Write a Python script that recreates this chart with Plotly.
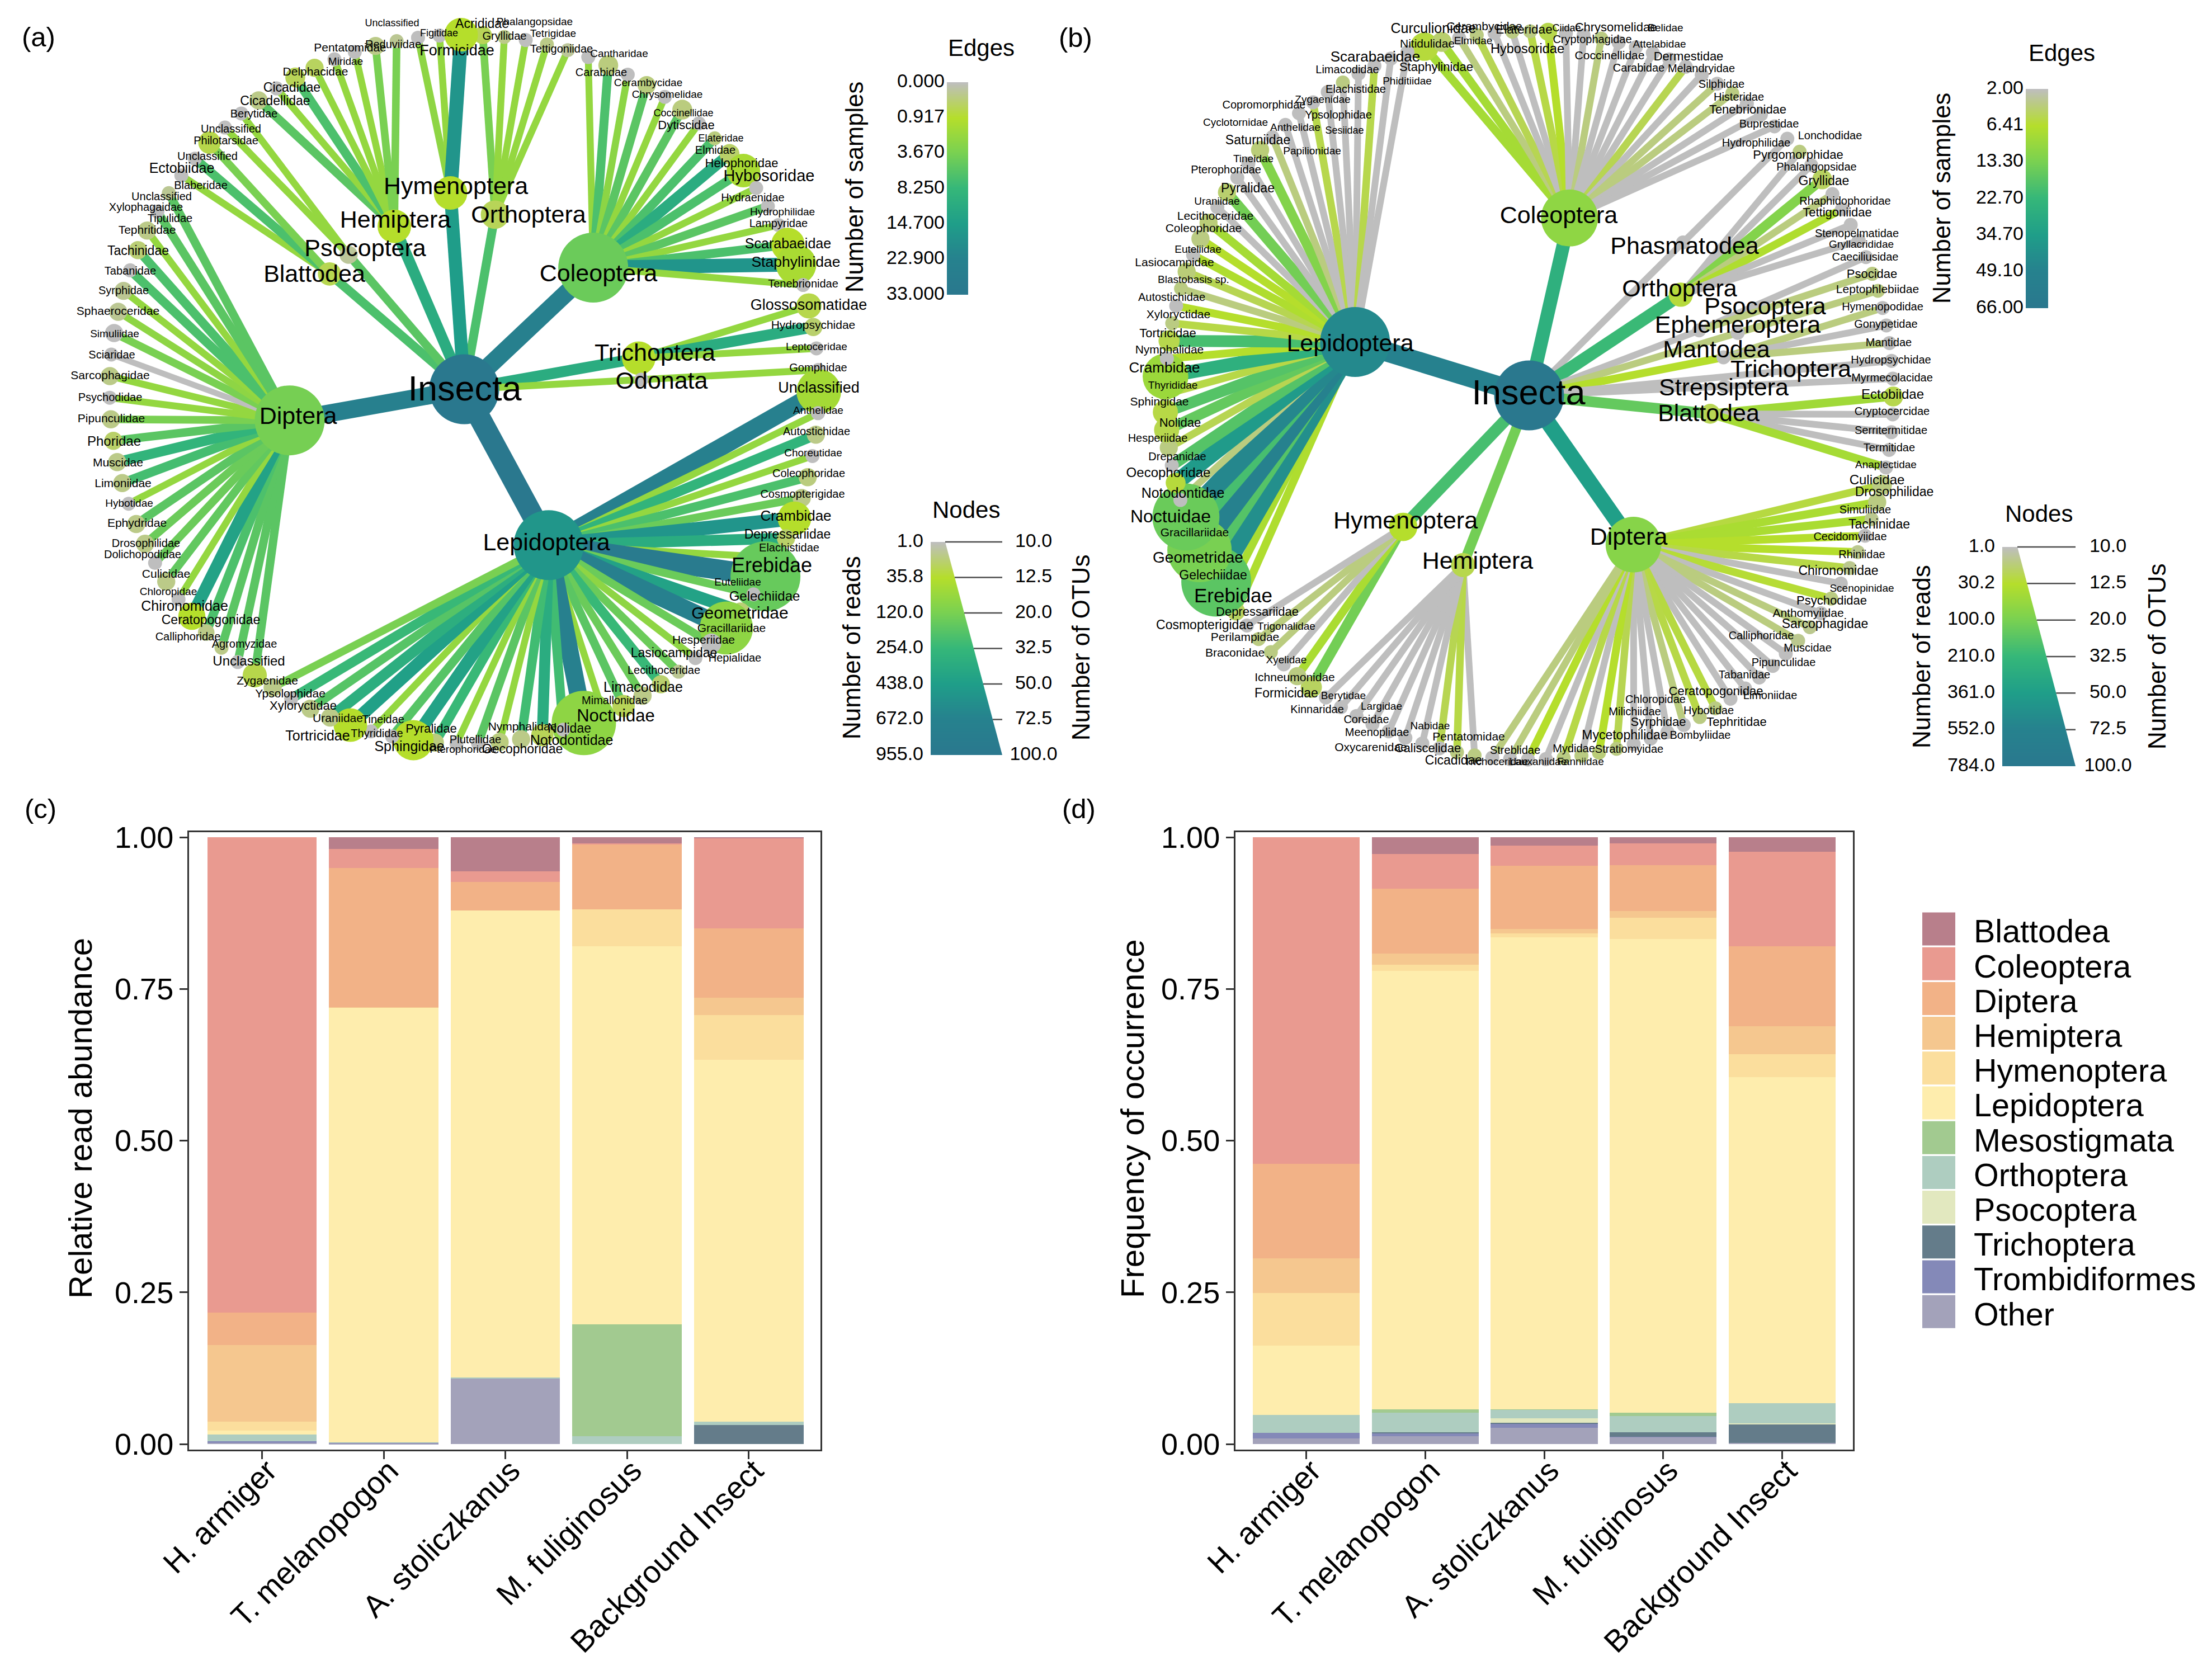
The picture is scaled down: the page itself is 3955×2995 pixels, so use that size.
import math
import numpy as np
import plotly.graph_objects as go
from plotly.colors import sample_colorscale

W, H = 3955, 2995
FONT = "Liberation Sans"

# ---------- stacked bars ----------
categories = ["H. armiger", "T. melanopogon", "A. stoliczkanus", "M. fuliginosus", "Background Insect"]
stack_orders = ["Other", "Trombidiformes", "Trichoptera", "Psocoptera", "Orthoptera", "Mesostigmata",
                "Lepidoptera", "Hymenoptera", "Hemiptera", "Diptera", "Coleoptera", "Blattodea"]
stack_colors = ["#A3A2BA", "#8489B8", "#647C8A", "#E2E8BF", "#AECDC0", "#A2CA90",
                "#FEEDAD", "#FBDE9D", "#F5C78F", "#F2B287", "#E99A90", "#B87F8B"]
legend_orders = ["Blattodea", "Coleoptera", "Diptera", "Hemiptera", "Hymenoptera", "Lepidoptera",
                 "Mesostigmata", "Orthoptera", "Psocoptera", "Trichoptera", "Trombidiformes", "Other"]
read_other = [.002, .001, .108, 0, 0]
read_trombidiformes = [.003, .001, 0, 0, 0]
read_trichoptera = [0, 0, 0, 0, .031]
read_psocoptera = [0, 0, 0, 0, 0]
read_orthoptera = [.011, .001, .002, .013, .0056]
read_mesostigmata = [0, 0, 0, .184, 0]
read_lepidoptera = [.006, .7168, .769, .623, .597]
read_hymenoptera = [.0146, 0, 0, .061, .073]
read_hemiptera = [.1264, .0002, 0, 0, .0291]
read_diptera = [.0535, .229, .047, .107, .1143]
read_coleoptera = [.7835, .032, .018, .002, .148]
read_blattodea = [0, .019, .056, .010, .002]
freq_other = [.0094, .013, .0272, .0113, .002]
freq_trombidiformes = [.0094, .0048, .0066, .0009, 0]
freq_trichoptera = [0, .0019, .0009, .0075, .0299]
freq_psocoptera = [0, 0, .0075, 0, .0019]
freq_orthoptera = [.029, .0319, .0141, .0263, .0337]
freq_mesostigmata = [0, .0056, .001, .0056, 0]
freq_lepidoptera = [.1145, .7223, .7776, .7805, .5375]
freq_hymenoptera = [.0863, .0105, .0066, .0356, .0376]
freq_hemiptera = [.0572, .0186, .0075, .0103, .046]
freq_diptera = [.1557, .107, .1041, .076, .1313]
freq_coleoptera = [.5385, .0563, .0328, .0357, .1557]
freq_blattodea = [0, .0281, .0141, .0103, .0244]
read_table = [read_other, read_trombidiformes, read_trichoptera, read_psocoptera, read_orthoptera, read_mesostigmata,
              read_lepidoptera, read_hymenoptera, read_hemiptera, read_diptera, read_coleoptera, read_blattodea]
freq_table = [freq_other, freq_trombidiformes, freq_trichoptera, freq_psocoptera, freq_orthoptera, freq_mesostigmata,
              freq_lepidoptera, freq_hymenoptera, freq_hemiptera, freq_diptera, freq_coleoptera, freq_blattodea]
y_ticks = [0, .25, .5, .75, 1]

# ---------- panel (a) tree, leaves listed clockwise ----------
A_orders = ["Orthoptera", "Coleoptera", "Trichoptera", "Odonata", "Lepidoptera", "Diptera", "Blattodea", "Psocoptera", "Hemiptera", "Hymenoptera"]
A_counts = [5, 16, 3, 1, 36, 26, 3, 2, 8, 3]
A_order_samples = [6.5, 25, 10.9, 2.2, 33, 25, 6.5, 5.5, 10.9, 15]
A_order_reads = [20, 144, 36, 1, 500, 125, 22, 5, 36, 36]
A_order_otus = [16, 100, 21, 10, 100, 100, 12.5, 10.5, 21, 21]
A_order_height = [.5, .5, .5, .5, .5, .5, .5, .5, .5, .555]
A_leaves = ["Acrididae", "Gryllidae", "Phalangopsidae", "Tetrigidae", "Tettigoniidae",
    "Cantharidae", "Carabidae", "Cerambycidae", "Chrysomelidae", "Coccinellidae", "Dytiscidae", "Elateridae", "Elmidae", "Helophoridae", "Hybosoridae", "Hydraenidae", "Hydrophilidae", "Lampyridae", "Scarabaeidae", "Staphylinidae", "Tenebrionidae",
    "Glossosomatidae", "Hydropsychidae", "Leptoceridae",
    "Gomphidae",
    "Unclassified", "Anthelidae", "Autostichidae", "Choreutidae", "Coleophoridae", "Cosmopterigidae", "Crambidae", "Depressariidae", "Elachistidae", "Erebidae", "Euteliidae", "Gelechiidae", "Geometridae", "Gracillariidae", "Hesperiidae", "Hepialidae", "Lasiocampidae", "Lecithoceridae", "Limacodidae", "Mimallonidae", "Noctuidae", "Nolidae", "Notodontidae", "Nymphalidae", "Oecophoridae", "Plutellidae", "Pterophoridae", "Pyralidae", "Sphingidae", "Thyrididae", "Tineidae", "Tortricidae", "Uraniidae", "Xyloryctidae", "Ypsolophidae", "Zygaenidae",
    "Unclassified", "Agromyzidae", "Calliphoridae", "Ceratopogonidae", "Chironomidae", "Chloropidae", "Culicidae", "Dolichopodidae", "Drosophilidae", "Ephydridae", "Hybotidae", "Limoniidae", "Muscidae", "Phoridae", "Pipunculidae", "Psychodidae", "Sarcophagidae", "Sciaridae", "Simuliidae", "Sphaeroceridae", "Syrphidae", "Tabanidae", "Tachinidae", "Tephritidae", "Tipulidae", "Xylophagaidae",
    "Unclassified", "Blaberidae", "Ectobiidae",
    "Unclassified", "Philotarsidae",
    "Unclassified", "Berytidae", "Cicadellidae", "Cicadidae", "Delphacidae", "Miridae", "Pentatomidae", "Reduviidae",
    "Unclassified", "Figitidae", "Formicidae"]
A_samples = [3.7, 2.2, 2.2, 2.2, 2.2,
    2.2, 6.5, 2.6, 5.5, 2.2, 5.5, 2.2, 6.5, 10.9, 6.5, 2.2, 5.5, 2.2, 6.5, 17, 2.2,
    2.2, 10.9, 2.2,
    2.2,
    25, 2.2, 9, 2.2, 6.5, 4.5, 17, 10.9, 2.2, 30, 4.5, 13.5, 25, 4.5, 2.5, 4.5, 8, 4.5, 5.5, 2.2, 25, 7.3, 10.9, 7.3, 2.2, 5.5, 2.2, 8, 13.5, 5.8, 2.2, 14, 10.3, 5.8, 8, 3.7,
    5.5, 5.5, 5.5, 6.5, 13.5, 2.2, 5, 4.5, 4.5, 5.5, 2.2, 7, 9, 5.5, 3.7, 2.2, 2.2, 0, 3.7, 2.5, 2.2, 6.5, 6.5, 2.2, 5.5, 5.5,
    2.2, 6.5, 3.7,
    2.2, 2.2,
    5.5, 2.2, 6.5, 2.2, 2.2, 2.2, 3.7, 3.7,
    2.5, 2.2, 17]
A_reads = [20, 8, 1, 8, 5,
    1, 10, 1, 10, 1, 10, 1, 10, 15, 49, 1, 1, 1, 36, 49, 1,
    24, 14, 1,
    1,
    55, 1, 8, 1, 10, 8, 36, 15, 1, 150, 1, 12, 85, 1, 1, 6, 14, 8, 20, 1, 85, 1, 20, 8, 10, 1, 1, 10, 36, 1, 1, 36, 8, 8, 1, 8,
    24, 1, 8, 8, 36, 1, 8, 1, 8, 8, 1, 8, 8, 15, 8, 1, 8, 1, 1, 6, 6, 1, 12, 8, 1, 6,
    1, 1, 24,
    1, 1,
    8, 1, 20, 18, 1, 1, 8, 6,
    1, 1, 36]
A_otus = [10.5, 10, 10, 10, 10,
    10, 11, 10, 10.5, 10, 11, 10, 10, 11, 21, 10, 10, 10, 21, 30, 10,
    13.6, 10.5, 10,
    10,
    37, 10, 10.5, 10, 10.5, 10.5, 21, 10.5, 10, 100, 10, 10.5, 54, 11, 10, 10, 10.5, 10.5, 12, 10, 83, 10, 12, 10.5, 10.5, 10, 10, 10.5, 30, 10, 10, 21, 10.5, 10.5, 10, 10.5,
    13, 10, 10, 10.2, 15, 10, 10.5, 10, 10.5, 10.5, 10, 10.5, 10.5, 10.5, 10.5, 10, 10.5, 10, 10.5, 10.5, 10.5, 10, 10.5, 10.5, 10, 10,
    10, 10, 12,
    10, 10,
    10.5, 10, 11, 10.5, 10, 10, 10.5, 10,
    10, 10, 21]

# ---------- panel (b) tree, leaves listed clockwise ----------
B_orders = ["Coleoptera", "Phasmatodea", "Orthoptera", "Psocoptera", "Ephemeroptera", "Mantodea", "Trichoptera", "Strepsiptera", "Blattodea", "Diptera", "Hemiptera", "Hymenoptera", "Lepidoptera"]
B_counts = [22, 1, 7, 2, 1, 3, 1, 1, 5, 30, 10, 6, 39]
B_order_samples = [26, 2, 22, 2, 3.6, 6.4, 2, 2, 16, 34, 14, 20, 50]
B_order_reads = [70, 1, 25, 1, 1, 1, 1, 1, 18, 80, 20, 30, 500]
B_order_otus = [63, 10, 13, 10, 10, 10, 10, 10, 11, 60, 13, 16, 100]
B_order_height = [.5, .596, .5, .5, .598, .544, .719, .538, .5, .5, .5, .5, .5]
B_leaves = ["Scarabaeidae", "Staphylinidae", "Nitidulidae", "Curculionidae", "Cerambycidae", "Elmidae", "Elateridae", "Hybosoridae", "Ciidae", "Chrysomelidae", "Cryptophagidae", "Belidae", "Attelabidae", "Coccinellidae", "Dermestidae", "Carabidae", "Melandryidae", "Silphidae", "Histeridae", "Tenebrionidae", "Buprestidae", "Hydrophilidae",
    "Lonchodidae",
    "Pyrgomorphidae", "Phalangopsidae", "Gryllidae", "Rhaphidophoridae", "Tettigoniidae", "Stenopelmatidae", "Gryllacrididae",
    "Caeciliusidae", "Psocidae",
    "Leptophlebiidae",
    "Hymenopodidae", "Gonypetidae", "Mantidae",
    "Hydropsychidae",
    "Myrmecolacidae",
    "Ectobiidae", "Cryptocercidae", "Serritermitidae", "Termitidae", "Anaplectidae",
    "Culicidae", "Drosophilidae", "Simuliidae", "Tachinidae", "Cecidomyiidae", "Rhiniidae", "Chironomidae", "Scenopinidae", "Psychodidae", "Anthomyiidae", "Sarcophagidae", "Calliphoridae", "Muscidae", "Pipunculidae", "Tabanidae", "Limoniidae", "Ceratopogonidae", "Tephritidae", "Hybotidae", "Bombyliidae", "Syrphidae", "Chloropidae", "Milichiidae", "Mycetophilidae", "Stratiomyidae", "Mydidae", "Fanniidae", "Lauxaniidae", "Streblidae", "Trichoceridae",
    "Cicadidae", "Caliscelidae", "Pentatomidae", "Oxycarenidae", "Nabidae", "Meenoplidae", "Coreidae", "Largidae", "Kinnaridae", "Berytidae",
    "Formicidae", "Ichneumonidae", "Xyelidae", "Braconidae", "Perilampidae", "Trigonalidae",
    "Cosmopterigidae", "Depressariidae", "Erebidae", "Gelechiidae", "Geometridae", "Gracillariidae", "Noctuidae", "Notodontidae", "Oecophoridae", "Drepanidae", "Hesperiidae", "Nolidae", "Sphingidae", "Thyrididae", "Crambidae", "Nymphalidae", "Tortricidae", "Xyloryctidae", "Autostichidae", "Blastobasis sp.", "Lasiocampidae", "Euteliidae", "Coleophoridae", "Lecithoceridae", "Uraniidae", "Pyralidae", "Pterophoridae", "Tineidae", "Saturniidae", "Papilionidae", "Sesiidae", "Anthelidae", "Cyclotornidae", "Ypsolophidae", "Copromorphidae", "Zygaenidae", "Elachistidae", "Limacodidae", "Phiditiidae"]
B_samples = [8, 8, 3.6, 5, 2, 2, 5.4, 6.4, 2, 2, 3.6, 2, 2, 2, 2, 5, 2, 3.6, 3.6, 2, 2, 2,
    2,
    2, 2, 12, 3.6, 7, 2, 2,
    2, 3.6,
    3.6,
    3.6, 2, 3.6,
    2,
    2,
    8.5, 2, 2, 2, 8,
    5.6, 7.5, 7.5, 6.4, 6.4, 5.4, 2, 6, 2, 3.6, 3.6, 2, 2, 2, 2, 2, 5.6, 5.4, 3.6, 2, 2, 2, 5, 6.4, 2, 5.4, 2, 6.4, 3.6, 3.6,
    2, 5.4, 5, 2, 2, 2, 2, 2, 2, 2,
    14, 7.5, 2, 3.6, 3.6, 2,
    7, 7.5, 42, 18, 50, 20, 46, 3.6, 36, 18, 5, 16, 18, 5.4, 26, 6.4, 20, 5.4, 6.4, 3.6, 5, 7, 6.4, 8, 2, 14, 2, 2, 12, 3.6, 2, 2, 5.2, 2, 2, 2, 5.2, 2, 2]
B_reads = [25, 12, 1, 8, 1, 8, 8, 20, 1, 1, 8, 1, 1, 1, 1, 1, 1, 1, 8, 1, 1, 1,
    1,
    8, 1, 15, 1, 1, 1, 1,
    1, 8,
    8,
    1, 1, 1,
    1,
    1,
    20, 1, 1, 1, 1,
    8, 8, 6, 1, 6, 6, 1, 8, 1, 6, 6, 1, 1, 1, 1, 1, 8, 8, 1, 1, 1, 1, 8, 10, 8, 8, 1, 1, 1, 1,
    8, 8, 1, 1, 1, 1, 1, 1, 1, 1,
    15, 8, 1, 8, 8, 1,
    15, 1, 144, 10, 100, 20, 120, 1, 25, 1, 8, 20, 22, 8, 55, 1, 20, 8, 1, 8, 10, 1, 8, 10, 1, 12, 1, 1, 10, 1, 1, 1, 1, 1, 8, 1, 1, 1, 1]
B_otus = [16, 11, 10, 10, 10, 10, 10, 10.5, 10, 10, 10, 10, 10, 10, 10, 10, 10, 10, 10, 10, 10, 10,
    10,
    10, 10, 11, 10, 10, 10, 10,
    10, 10,
    10,
    10, 10, 10,
    10,
    10,
    11, 10, 10, 10, 10,
    11, 10.5, 10, 10, 10, 10, 10, 10, 10, 10, 10, 10, 10, 10, 10, 10, 10, 10, 10, 10, 10, 10, 10, 10, 10, 10, 10, 10, 10, 10,
    10, 10, 10, 10, 10, 10, 10, 10, 10, 10,
    11.5, 10.5, 10, 10, 10, 10,
    10.5, 10, 100, 10.5, 83, 10.5, 91, 10, 11, 10, 10.5, 13.6, 13.6, 10, 39, 10, 11.5, 10, 10, 10, 10.5, 10, 10.5, 10.5, 10, 10.5, 10, 10, 10.5, 10, 10, 10, 10, 10, 10, 10, 10, 10, 10]

# ---------- legend scales ----------
A_edge_ticks = ["0.000", "0.917", "3.670", "8.250", "14.700", "22.900", "33.000"]
B_edge_ticks = ["2.00", "6.41", "13.30", "22.70", "34.70", "49.10", "66.00"]
A_read_ticks = ["1.0", "35.8", "120.0", "254.0", "438.0", "672.0", "955.0"]
B_read_ticks = ["1.0", "30.2", "100.0", "210.0", "361.0", "552.0", "784.0"]
otu_ticks = ["10.0", "12.5", "20.0", "32.5", "50.0", "72.5", "100.0"]

# ---------- label placement (repelled by hand in the original) ----------
A_label_x = [862, 902, 956, 989, 1004,
    1107, 1075, 1159, 1193, 1222, 1227, 1289, 1279, 1326, 1375, 1346, 1399, 1392, 1409, 1423, 1436,
    1446, 1454, 1460,
    1463,
    1464, 1463, 1460, 1454, 1446, 1435, 1423, 1408, 1411, 1380, 1319, 1367, 1323, 1308, 1258, 1314, 1205, 1187, 1150, 1099, 1101, 1018, 1022, 934, 934, 850, 828, 771, 732, 674, 685, 568, 604, 542, 519, 478,
    445, 437, 336, 377, 330, 301, 297, 255, 261, 245, 231, 220, 211, 204, 199, 197, 197, 200, 205, 211, 221, 233, 247, 263, 304, 261,
    289, 359, 325,
    371, 404,
    413, 454, 492, 522, 564, 618, 626, 703,
    701, 785, 817]
A_label_y = [44, 66, 40, 61, 89,
    97, 131, 149, 170, 203, 225, 248, 270, 293, 317, 355, 380, 401, 438, 470, 509,
    547, 583, 621,
    659,
    695, 735, 773, 811, 848, 885, 924, 957, 981, 1014, 1042, 1068, 1098, 1125, 1146, 1178, 1169, 1200, 1231, 1254, 1282, 1304, 1326, 1301, 1341, 1324, 1341, 1304, 1337, 1313, 1288, 1318, 1286, 1263, 1242, 1219,
    1184, 1153, 1140, 1110, 1086, 1059, 1028, 993, 973, 937, 901, 866, 829, 791, 750, 712, 673, 636, 598, 558, 521, 486, 450, 413, 392, 372,
    353, 333, 303,
    281, 253,
    232, 205, 182, 158, 130, 111, 87, 81,
    42, 60, 92]
A_label_font = [23, 20, 19, 19, 20,
    19, 20, 19, 19, 18, 22, 18, 20, 22, 29, 20, 19, 20, 25, 26.5, 20,
    27, 21, 19,
    20,
    27, 19, 20, 19, 20, 20, 26, 23, 20, 36, 19, 24, 30, 21, 21, 20, 23, 20, 25, 20, 31, 23, 25, 21, 23, 20, 19, 22, 25, 20, 20, 25, 21, 22, 21, 21,
    24, 20, 20, 23, 25, 19, 21, 20, 20, 21, 19, 21, 21, 24, 21, 20, 21, 20, 19, 21, 20, 20, 23, 21, 20, 20,
    20, 20, 25,
    20, 20,
    20, 20, 23, 23, 21, 19, 21, 20,
    18, 18, 27]
A_order_label_x = [945, 1070, 1171, 1183, 977, 533, 562, 653, 707, 815]
A_order_label_y = [387, 492, 634, 684, 973, 747, 493, 447, 396, 336]
A_root_label = (831, 700)

B_label_x = [2459, 2568, 2552, 2563, 2654, 2634, 2725, 2731, 2801, 2889, 2847, 2978, 2967, 2878, 3019, 2930, 3042, 3078, 3109, 3125, 3163, 3140,
    3272,
    3215, 3248, 3261, 3299, 3285, 3320, 3328,
    3335, 3347,
    3357,
    3366, 3372, 3377,
    3381,
    3383,
    3384, 3383, 3381, 3378, 3372,
    3356, 3387, 3335, 3360, 3308, 3329, 3287, 3329, 3275, 3233, 3263, 3149, 3232, 3189, 3119, 3165, 3068, 3105, 3055, 3040, 2965, 2960, 2923, 2905, 2913, 2814, 2826, 2750, 2709, 2675,
    2599, 2553, 2626, 2451, 2557, 2462, 2443, 2470, 2355, 2402,
    2300, 2315, 2300, 2208, 2226, 2300,
    2154, 2248, 2205, 2169, 2142, 2136, 2093, 2115, 2089, 2105, 2070, 2110, 2073, 2097, 2082, 2091, 2088, 2107, 2095, 2134, 2100, 2142, 2152, 2173, 2176, 2231, 2192, 2241, 2249, 2346, 2404, 2316, 2209, 2393, 2260, 2365, 2424, 2409, 2516]
B_label_y = [103, 121, 80, 53, 49, 74, 54, 89, 51, 50, 72, 51, 80, 101, 102, 123, 124, 152, 175, 197, 223, 257,
    244,
    278, 300, 325, 361, 381, 419, 438,
    461, 491,
    519,
    550, 581, 614,
    645,
    677,
    707, 737, 771, 802, 832,
    860, 881, 913, 939, 961, 993, 1022, 1053, 1075, 1098, 1117, 1138, 1160, 1186, 1208, 1245, 1237, 1292, 1272, 1316, 1292, 1252, 1274, 1316, 1341, 1340, 1363, 1363, 1343, 1363,
    1361, 1339, 1319, 1338, 1299, 1311, 1288, 1264, 1270, 1245,
    1241, 1213, 1181, 1169, 1141, 1121,
    1119, 1095, 1068, 1030, 999, 954, 926, 884, 847, 818, 785, 757, 720, 690, 659, 627, 597, 564, 533, 501, 471, 447, 410, 388, 361, 338, 305, 285, 252, 271, 234, 229, 220, 207, 189, 179, 161, 126, 146]
B_label_font = [26, 22, 21, 25, 21, 19, 22.5, 23.5, 18, 22, 20, 19, 19, 21, 22, 20, 20, 20, 20, 22, 20, 20,
    20,
    22, 20, 23, 20, 22, 20, 19,
    20, 22,
    21,
    20, 20, 20,
    20,
    20,
    24, 20, 20, 20, 19,
    24, 23, 20, 23, 20, 20, 23, 19, 22, 21, 23, 20, 20, 20, 20, 20, 22, 22, 20, 20, 22, 20, 20, 23, 20, 20, 19, 19, 20, 19,
    23, 22, 21, 21, 19, 20, 20, 19, 20, 19,
    23, 21, 19, 21, 21, 19,
    23, 22, 35, 23, 28, 21, 32, 25, 24, 20, 20, 22, 21, 19, 26, 21, 22, 21, 20, 19, 21, 19, 21, 21, 19, 23, 20, 19, 23, 19, 18, 19, 19, 20, 20, 19, 20, 20, 19]
B_order_label_x = [2787, 3012, 3003, 3156, 3107, 3069, 3202, 3082, 3055, 2912, 2642, 2513, 2414]
B_order_label_y = [388, 443, 519, 551, 584, 628, 663, 696, 742, 963, 1006, 934, 617]
B_root_label = (2733, 707)

# ---------- scales ----------
CS = [[0, "#BEBEBE"], [.167, "#B5DE2B"], [.33, "#7AD151"], [.5, "#35B779"],
      [.667, "#1F9E89"], [.83, "#26828E"], [1, "#2A788E"]]


def col(t):
    return sample_colorscale(CS, [max(0, min(1, t))], colortype="rgb")[0]


def sqrt_t(v, lo, hi):
    return (math.sqrt(v) - math.sqrt(lo)) / (math.sqrt(hi) - math.sqrt(lo))


fig = go.Figure()


# ---------- bars ----------
def add_bars(table, xa, ya):
    for name, color, vals in zip(stack_orders, stack_colors, table):
        fig.add_trace(go.Bar(x=categories, y=vals, name=name, marker=dict(color=color, line=dict(width=0)),
                             xaxis=xa, yaxis=ya, showlegend=False, hoverinfo="skip"))


add_bars(read_table, "x", "y")
add_bars(freq_table, "x2", "y2")


# ---------- trees ----------
def add_tree(cx, cy, radius, start, orders, counts, o_s, o_r, o_o, o_h, leaves, samples, reads, otus,
             lx, ly, lf, olx, oly, root_label, s_rng, r_rng, w0, w1, wpow):
    n = sum(counts)
    assert len(leaves) == n and len(samples) == n and len(reads) == n and len(otus) == n, (len(leaves), len(samples), len(reads), len(otus), n)
    assert len(lx) == n and len(ly) == n and len(lf) == n, (len(lx), len(ly), len(lf), n)
    step = 360 / n

    def pos(deg, r):
        a = math.radians(deg)
        return cx + r * math.sin(a), cy - r * math.cos(a)

    def diam(o):
        return 25 + 100 * math.sqrt(max(o - 10, 0) / 90)

    def edge(p, q, v):
        t = max(0, sqrt_t(max(v, s_rng[0]), *s_rng))
        fig.add_trace(go.Scatter(x=[p[0], q[0]], y=[p[1], q[1]], mode="lines", xaxis="x3", yaxis="y3",
                                 line=dict(color=col(t), width=w0 + w1 * t ** wpow), hoverinfo="skip", showlegend=False))

    nx, ny, ns, nc = [], [], [], []

    def node(p, r, o):
        nx.append(p[0]); ny.append(p[1]); ns.append(diam(o))
        nc.append(col(sqrt_t(r, *r_rng)))

    leaf_pos = []
    order_pos = []
    k = 0
    for j, c in enumerate(counts):
        angles = [start + (k + i) * step for i in range(c)]
        p = pos((angles[0] + angles[-1]) / 2, radius * o_h[j])
        order_pos.append(p)
        edge((cx, cy), p, o_s[j])
        for i, a in enumerate(angles):
            q = pos(a, radius)
            leaf_pos.append(q)
            edge(p, q, samples[k + i])
        k += c
    for i, q in enumerate(leaf_pos):
        node(q, reads[i], otus[i])
    for j, p in enumerate(order_pos):
        node(p, o_r[j], o_o[j])
    node((cx, cy), r_rng[1], 100)
    fig.add_trace(go.Scatter(x=nx, y=ny, mode="markers", xaxis="x3", yaxis="y3",
                             marker=dict(size=ns, color=nc, line=dict(width=0), opacity=1),
                             hoverinfo="skip", showlegend=False))
    tx = list(lx) + list(olx) + [root_label[0]]
    ty = list(ly) + list(oly) + [root_label[1]]
    tt = list(leaves) + list(orders) + ["Insecta"]
    tf = list(lf) + [43] * len(orders) + [63]
    fig.add_trace(go.Scatter(x=tx, y=ty, mode="text", text=tt, xaxis="x3", yaxis="y3",
                             textposition="middle center",
                             textfont=dict(family=FONT, size=tf, color="black"),
                             hoverinfo="skip", showlegend=False))


add_tree(830, 696, 634, 3.0, A_orders, A_counts, A_order_samples, A_order_reads, A_order_otus, A_order_height,
         A_leaves, A_samples, A_reads, A_otus, A_label_x, A_label_y, A_label_font, A_order_label_x, A_order_label_y,
         A_root_label, (0.0001, 33), (1, 955), 10.5, 28, 2)
add_tree(2734, 707, 651, -16.7, B_orders, B_counts, B_order_samples, B_order_reads, B_order_otus, B_order_height,
         B_leaves, B_samples, B_reads, B_otus, B_label_x, B_label_y, B_label_font, B_order_label_x, B_order_label_y,
         B_root_label, (2, 66), (1, 784), 12, 30, 1.5)

annotations = []


def note(x, y, text, size, angle=0, xanchor="center"):
    annotations.append(dict(x=x, y=y, xref="x3", yref="y3", text=text, showarrow=False, textangle=angle,
                            xanchor=xanchor, yanchor="middle", font=dict(family=FONT, size=size, color="black")))


def gradient(x0, x1, y0, y1):
    n = 240
    z = np.linspace(0, 1, n).reshape(-1, 1)
    fig.add_trace(go.Heatmap(z=z, x0=(x0 + x1) / 2, dx=x1 - x0, y0=y0 + (y1 - y0) / (2 * n), dy=(y1 - y0) / n,
                             colorscale=CS, zmin=0, zmax=1, showscale=False, xaxis="x3", yaxis="y3", hoverinfo="skip"))


def tick_text(xs, ys, texts, position, size=34):
    fig.add_trace(go.Scatter(x=xs, y=ys, mode="text", text=texts, xaxis="x3", yaxis="y3", textposition=position,
                             textfont=dict(family=FONT, size=size, color="black"), hoverinfo="skip", showlegend=False))


def add_legends(e, n, edge_ticks, read_ticks):
    gradient(e["x0"], e["x1"], e["y0"], e["y1"])
    ys = np.linspace(e["y0"], e["y1"], 7).tolist()
    tick_text([e["lab"]] * 7, ys, edge_ticks, "middle left")
    note(e["tx"], e["ty"], "Edges", 42)
    note(e["sx"], e["sy"], "Number of samples", 43.5, -90)
    gradient(n["x0"], n["x2"], n["y0"], n["y1"])
    fig.add_trace(go.Scatter(x=[n["x1"], n["x2"], n["x2"] + 2, n["x2"] + 2, n["x1"]],
                             y=[n["y0"], n["y1"], n["y1"] + 1, n["y0"] - 1, n["y0"] - 1], mode="lines", fill="toself",
                             fillcolor="white", line=dict(width=0), xaxis="x3", yaxis="y3", hoverinfo="skip", showlegend=False))
    ys = np.linspace(n["y0"], n["y1"], 7).tolist()
    for i, y in enumerate(ys[:-1]):
        xs = n["x1"] + (n["x2"] - n["x1"]) * i / 6
        fig.add_trace(go.Scatter(x=[xs, n["x2"]], y=[y, y], mode="lines", line=dict(color="#4D4D4D", width=2.5),
                                 xaxis="x3", yaxis="y3", hoverinfo="skip", showlegend=False))
    tick_text([n["lab"]] * 7, ys, read_ticks, "middle left")
    tick_text([n["rlab"]] * 7, ys, otu_ticks, "middle center")
    note(n["tx"], n["ty"], "Nodes", 42)
    note(n["lx"], n["my"], "Number of reads", 44, -90)
    note(n["rx"], n["my"], "Number of OTUs", 44, -90)


add_legends(dict(x0=1693, x1=1731, y0=147, y1=527, lab=1689, tx=1754, ty=85, sx=1528, sy=335),
            dict(x0=1664, x1=1690, x2=1792, y0=969, y1=1350, lab=1651, rlab=1848, tx=1727, ty=911, lx=1522, rx=1932, my=1158),
            A_edge_ticks, A_read_ticks)
add_legends(dict(x0=3622, x1=3662, y0=159, y1=551, lab=3618, tx=3686, ty=94, sx=3472, sy=355),
            dict(x0=3580, x1=3607, x2=3711, y0=978, y1=1370, lab=3567, rlab=3769, tx=3645, ty=918, lx=3435, rx=3856, my=1174),
            B_edge_ticks, B_read_ticks)

# ---------- bar legend ----------
key_y = [1661 + 62.2 * i for i in range(len(legend_orders))]
key_col = [stack_colors[stack_orders.index(o)] for o in legend_orders]
fig.add_trace(go.Scatter(x=[3466.5] * len(legend_orders), y=key_y, mode="markers", xaxis="x3", yaxis="y3",
                         marker=dict(symbol="square", size=59, color=key_col, line=dict(width=0)),
                         hoverinfo="skip", showlegend=False))
tick_text([3529] * len(legend_orders), [y + 10 for y in key_y], legend_orders, "middle right", 57.5)

for x, y, t in [(69, 66, "(a)"), (1923, 67, "(b)"), (72, 1446, "(c)"), (1929, 1446, "(d)")]:
    note(x, y, t, 49)
note(143, 2000, "Relative read abundance", 58, -90)
note(2024, 2000, "Frequency of occurrence", 58, -90)


def axis_common(tick_size=54):
    return dict(showline=True, mirror=True, linecolor="#333333", linewidth=3, ticks="outside", ticklen=14,
                tickwidth=3, tickcolor="#333333", showgrid=False, zeroline=False, fixedrange=True, automargin=False,
                tickfont=dict(family=FONT, size=tick_size, color="black"))


fig.update_layout(
    width=W, height=H, margin=dict(l=0, r=0, t=0, b=0, pad=0), autosize=False,
    paper_bgcolor="white", plot_bgcolor="rgba(0,0,0,0)",
    barmode="stack", bargap=0.1, showlegend=False, annotations=annotations,
    font=dict(family=FONT),
    xaxis=dict(domain=[338 / W, 1467 / W], anchor="y", type="category", categoryorder="array", categoryarray=categories,
               range=[-0.6, 4.59], tickangle=-45, ticklabelstandoff=-34, ticklabelshift=10, **axis_common(55.5)),
    yaxis=dict(domain=[1 - 2592 / H, 1 - 1488 / H], anchor="x", range=[-0.0092, 1.0083],
               tickvals=y_ticks, ticktext=[f"{v:.2f}" for v in y_ticks], **axis_common()),
    xaxis2=dict(domain=[2209 / W, 3313 / W], anchor="y2", type="category", categoryorder="array", categoryarray=categories,
                range=[-0.595, 4.595], tickangle=-45, ticklabelstandoff=-34, ticklabelshift=10, **axis_common(55.5)),
    yaxis2=dict(domain=[1 - 2592 / H, 1 - 1488 / H], anchor="x2", range=[-0.0092, 1.0083],
                tickvals=y_ticks, ticktext=[f"{v:.2f}" for v in y_ticks], **axis_common()),
    xaxis3=dict(domain=[0, 1], range=[0, W], anchor="y3", visible=False, fixedrange=True, automargin=False),
    yaxis3=dict(domain=[0, 1], range=[H, 0], anchor="x3", visible=False, fixedrange=True, automargin=False),
)

fig.write_html("out.html", config=dict(displayModeBar=False),
               post_script="document.body.style.margin='0';document.body.style.overflow='hidden';")
